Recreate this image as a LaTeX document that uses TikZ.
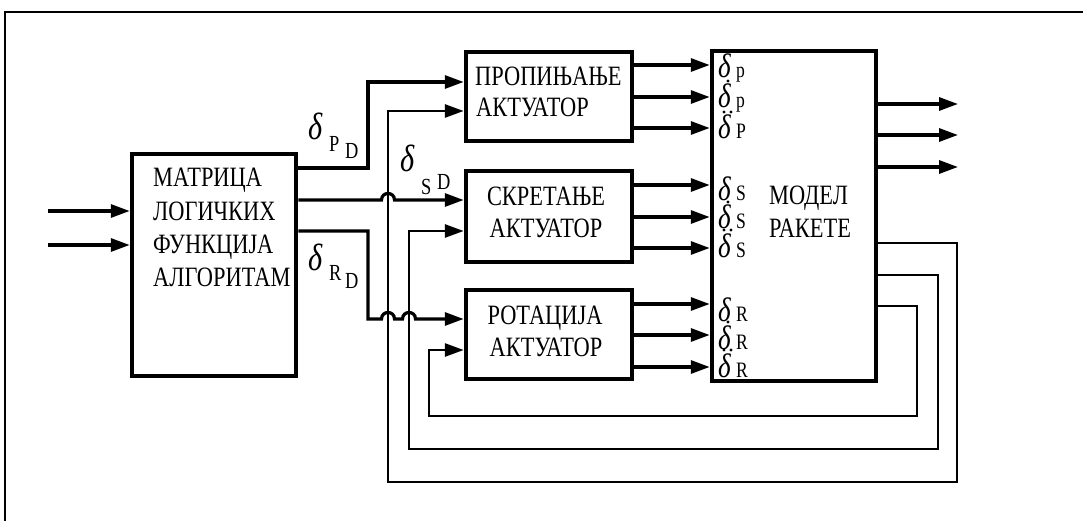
\RequirePackage{fix-cm}
\documentclass[tikz,border=0pt]{standalone}
\usepackage{fontspec}
\setmainfont[FakeStretch=0.8]{Liberation Serif}
\usetikzlibrary{arrows.meta}
\newcommand\bigtxt{\fontsize{28}{30}\selectfont}
\newcommand\deltafont{\fontsize{38}{40}\selectfont\itshape}
\newcommand\subtxt{\fontsize{23}{24}\selectfont}
\newcommand\mdelta{\fontsize{34}{36}\selectfont\itshape}
\newcommand\msub{\fontsize{22}{23}\selectfont}
\newcommand\dbox[1]{\makebox[18pt][l]{#1}}
\begin{document}
\begin{tikzpicture}[x=1pt,y=-1pt,
  blk/.style={draw, line width=4.5pt, inner sep=0pt},
  conn/.style={line width=3.2pt},
  arr/.style={conn, -{Triangle[length=19pt,width=13pt]}},
  fb/.style={line width=2.9pt, -{Triangle[length=19pt,width=13pt]}},
  txt/.style={inner sep=0pt},
  accdot/.style={circle, fill, inner sep=0pt, minimum size=3.4pt}]
\useasboundingbox (0,0) rectangle (1083,521);
% frame
\coordinate (fr1) at (1083,12);
\coordinate (fr2) at (5,12);
\coordinate (fr3) at (5,521);
\draw[line width=2pt] (fr1) -- (fr2) -- (fr3);
% blocks
\node[blk, minimum width=164pt, minimum height=222pt] (mat) at (214,265) {};
\node[blk, minimum width=166pt, minimum height=89pt] (prop) at (549,96.5) {};
\node[blk, minimum width=166pt, minimum height=91pt] (skret) at (549,216.5) {};
\node[blk, minimum width=166pt, minimum height=89pt] (rot) at (549,334.5) {};
\node[blk, minimum width=164pt, minimum height=330pt] (model) at (794,216) {};
% block texts
\node[txt, anchor=base west, font=\bigtxt] (m1) at (153,187) {МАТРИЦА};
\node[txt, anchor=base west, font=\bigtxt] (m2) at (153,221) {ЛОГИЧКИХ};
\node[txt, anchor=base west, font=\bigtxt] (m3) at (153,254) {ФУНКЦИЈА};
\node[txt, anchor=base west, font=\bigtxt] (m4) at (153,286) {АЛГОРИТАМ};
\node[txt, anchor=base west, font=\bigtxt] (p1) at (475,86) {ПРОПИЊАЊЕ};
\node[txt, anchor=base west, font=\bigtxt] (p2) at (476,117) {АКТУАТОР};
\node[txt, anchor=base, font=\bigtxt] (s1) at (546,206) {СКРЕТАЊЕ};
\node[txt, anchor=base, font=\bigtxt] (s2) at (546,237) {АКТУАТОР};
\node[txt, anchor=base, font=\bigtxt] (r1) at (545,324) {РОТАЦИЈА};
\node[txt, anchor=base, font=\bigtxt] (r2) at (546,356) {АКТУАТОР};
\node[txt, anchor=base west, font=\bigtxt] (mo1) at (769,205) {МОДЕЛ};
\node[txt, anchor=base west, font=\bigtxt] (mo2) at (769,237) {РАКЕТЕ};
% inputs
\coordinate (in1) at (48,211);
\coordinate (in2) at (48,245);
\draw[arr] (in1) -- (mat.west |- in1);
\draw[arr] (in2) -- (mat.west |- in2);
% matrix outputs
\draw[arr] (mat.east |- 0,168) -- (368,168) -- (368,82) -- (prop.west |- 0,82);
\draw[arr] (mat.east |- 0,200) -- (381.5,200) .. controls (381.5,191.3) and (394.5,191.3) .. (394.5,200) -- (skret.west |- 0,200);
\draw[arr] (mat.east |- 0,231) -- (368,231) -- (368,319) -- (381.5,319)
  .. controls (381.5,310.3) and (394.5,310.3) .. (394.5,319) -- (402.5,319)
  .. controls (402.5,310.3) and (415.5,310.3) .. (415.5,319) -- (rot.west |- 0,319);
% actuator to model
\foreach \y in {65,97,128} \draw[arr] (prop.east |- 0,\y) -- (model.west |- 0,\y);
\foreach \y in {185,217,248} \draw[arr] (skret.east |- 0,\y) -- (model.west |- 0,\y);
\foreach \y in {304,335,367} \draw[arr] (rot.east |- 0,\y) -- (model.west |- 0,\y);
% model outputs
\foreach \y [count=\i] in {104,135,167} {
  \coordinate (out\i) at (958,\y);
  \draw[arr] (model.east |- out\i) -- (out\i);
}
% feedback loops
\draw[fb] (model.east |- 0,243) -- (957,243) -- (957,482) -- (388,482) -- (388,111) -- (prop.west |- 0,111);
\draw[fb] (model.east |- 0,275) -- (938,275) -- (938,449) -- (409,449) -- (409,231) -- (skret.west |- 0,231);
\draw[fb] (model.east |- 0,306) -- (917,306) -- (917,416) -- (429,416) -- (429,350) -- (rot.west |- 0,350);
% external labels
\node[txt, anchor=base, font=\deltafont] (dP) at (316,140) {δ};
\node[txt, anchor=base west, font=\subtxt] (dPa) at (329,152) {P};
\node[txt, anchor=base west, font=\subtxt] (dPb) at (345,159) {D};
\node[txt, anchor=base, font=\deltafont] (dS) at (408,172) {δ};
\node[txt, anchor=base west, font=\subtxt] (dSa) at (421,195) {S};
\node[txt, anchor=base west, font=\subtxt] (dSb) at (437,190) {D};
\node[txt, anchor=base, font=\deltafont] (dR) at (316,270) {δ};
\node[txt, anchor=base west, font=\subtxt] (dRa) at (329,280) {R};
\node[txt, anchor=base west, font=\subtxt] (dRb) at (345,288) {D};
% model internal labels
\node[txt, anchor=base west] (ip1) at (718,78) {\dbox{\mdelta δ}{\msub p}};
\node[txt, anchor=base west] (ip2) at (718,108) {\dbox{\mdelta δ}{\msub p}};
\node[txt, anchor=base west] (ip3) at (718,139) {\dbox{\mdelta δ}{\msub P}};
\node[txt, anchor=base west] (is1) at (718,201) {\dbox{\mdelta δ}{\msub S}};
\node[txt, anchor=base west] (is2) at (718,229) {\dbox{\mdelta δ}{\msub S}};
\node[txt, anchor=base west] (is3) at (718,257) {\dbox{\mdelta δ}{\msub S}};
\node[txt, anchor=base west] (ir1) at (718,321) {\dbox{\mdelta δ}{\msub R}};
\node[txt, anchor=base west] (ir2) at (718,349) {\dbox{\mdelta δ}{\msub R}};
\node[txt, anchor=base west] (ir3) at (718,377) {\dbox{\mdelta δ}{\msub R}};
% derivative dots
\foreach \b [count=\i] in {108,229,349} \node[accdot] (d1\i) at (728,\b-27) {};
\foreach \b [count=\i] in {139,257,377} {
  \node[accdot] (dda\i) at (724,\b-27) {};
  \node[accdot] (ddb\i) at (731,\b-27) {};
}
\end{tikzpicture}
\end{document}
